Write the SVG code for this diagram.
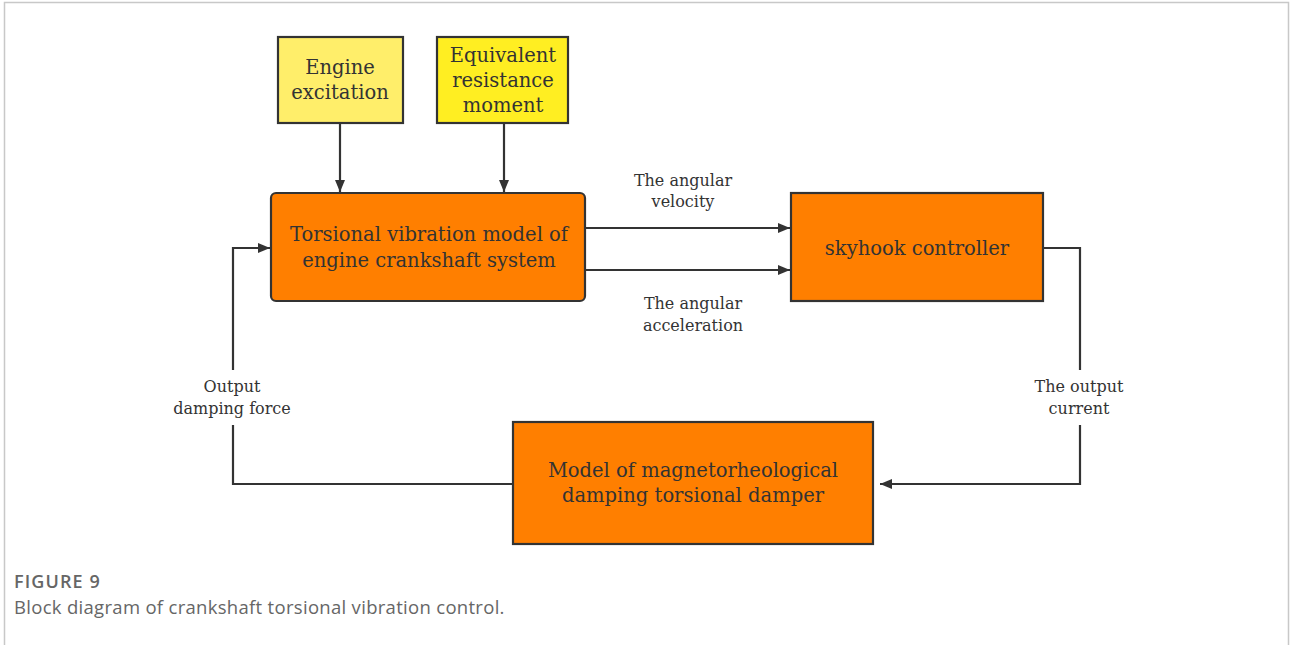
<svg xmlns="http://www.w3.org/2000/svg" width="1290" height="645" viewBox="0 0 1290 645">
<style>
.box{stroke:#333;stroke-width:2.2}
.t{font-family:"DejaVu Serif","Liberation Serif",serif;fill:#333;text-anchor:middle}
.bt{font-size:19.5px}
.lt{font-size:16px}
.ln{fill:none;stroke:#333;stroke-width:2.2}
.cap{font-family:"Open Sans","Noto Sans",sans-serif;fill:#666}
</style>
<defs>
<marker id="ah" viewBox="0 0 12 10" refX="12" refY="5" markerWidth="12" markerHeight="10" markerUnits="userSpaceOnUse" orient="auto">
<path d="M0,0 L12,5 L0,10 z" fill="#333"/>
</marker>
</defs>
<rect x="0" y="0" width="1290" height="645" fill="#fff"/>
<path d="M4.5,645 V2.5 H1288.5 V645" fill="none" stroke="#c8c8c8" stroke-width="1.5"/>
<g id="connectors">
<line class="ln" x1="340" y1="123" x2="340" y2="192" marker-end="url(#ah)"/>
<line class="ln" x1="504" y1="123" x2="504" y2="192" marker-end="url(#ah)"/>
<line class="ln" x1="585" y1="228" x2="790" y2="228" marker-end="url(#ah)"/>
<line class="ln" x1="585" y1="270" x2="790" y2="270" marker-end="url(#ah)"/>
<polyline class="ln" points="1043,248 1080,248 1080,370"/>
<polyline class="ln" points="1080,425 1080,484 880,484" marker-end="url(#ah)"/>
<polyline class="ln" points="513,484 233,484 233,425"/>
<polyline class="ln" points="233,370 233,248 270,248" marker-end="url(#ah)"/>
<text class="t lt" x="683" y="186">The angular</text>
<text class="t lt" x="683" y="207">velocity</text>
<text class="t lt" x="693" y="309">The angular</text>
<text class="t lt" x="693" y="331">acceleration</text>
<text class="t lt" x="232" y="392">Output</text>
<text class="t lt" x="232" y="414">damping force</text>
<text class="t lt" x="1079" y="392">The output</text>
<text class="t lt" x="1079" y="414">current</text>
</g>
<g id="engine-excitation">
<rect class="box" x="278" y="37" width="125" height="86" fill="#FFEE6A"/>
<text class="t bt" x="340" y="74">Engine</text>
<text class="t bt" x="340" y="99">excitation</text>
</g>
<g id="equivalent-resistance">
<rect class="box" x="437" y="37" width="131" height="86" fill="#FFEE22"/>
<text class="t bt" x="503" y="62">Equivalent</text>
<text class="t bt" x="503" y="87">resistance</text>
<text class="t bt" x="503" y="112">moment</text>
</g>
<g id="torsional-model">
<rect class="box" x="271" y="193" width="314" height="108" rx="5" fill="#FF7F00"/>
<text class="t bt" x="429" y="241">Torsional vibration model of</text>
<text class="t bt" x="429" y="267">engine crankshaft system</text>
</g>
<g id="skyhook">
<rect class="box" x="791" y="193" width="252" height="108" fill="#FF7F00"/>
<text class="t bt" x="917" y="255">skyhook controller</text>
</g>
<g id="mr-damper">
<rect class="box" x="513" y="422" width="360" height="122" fill="#FF7F00"/>
<text class="t bt" x="693" y="477">Model of magnetorheological</text>
<text class="t bt" x="693" y="502">damping torsional damper</text>
</g>
<text class="cap" x="14" y="588" font-size="18" font-weight="600" letter-spacing="1.1">FIGURE 9</text>
<text class="cap" x="14" y="614" font-size="18.5" letter-spacing="0.3">Block diagram of crankshaft torsional vibration control.</text>
</svg>
